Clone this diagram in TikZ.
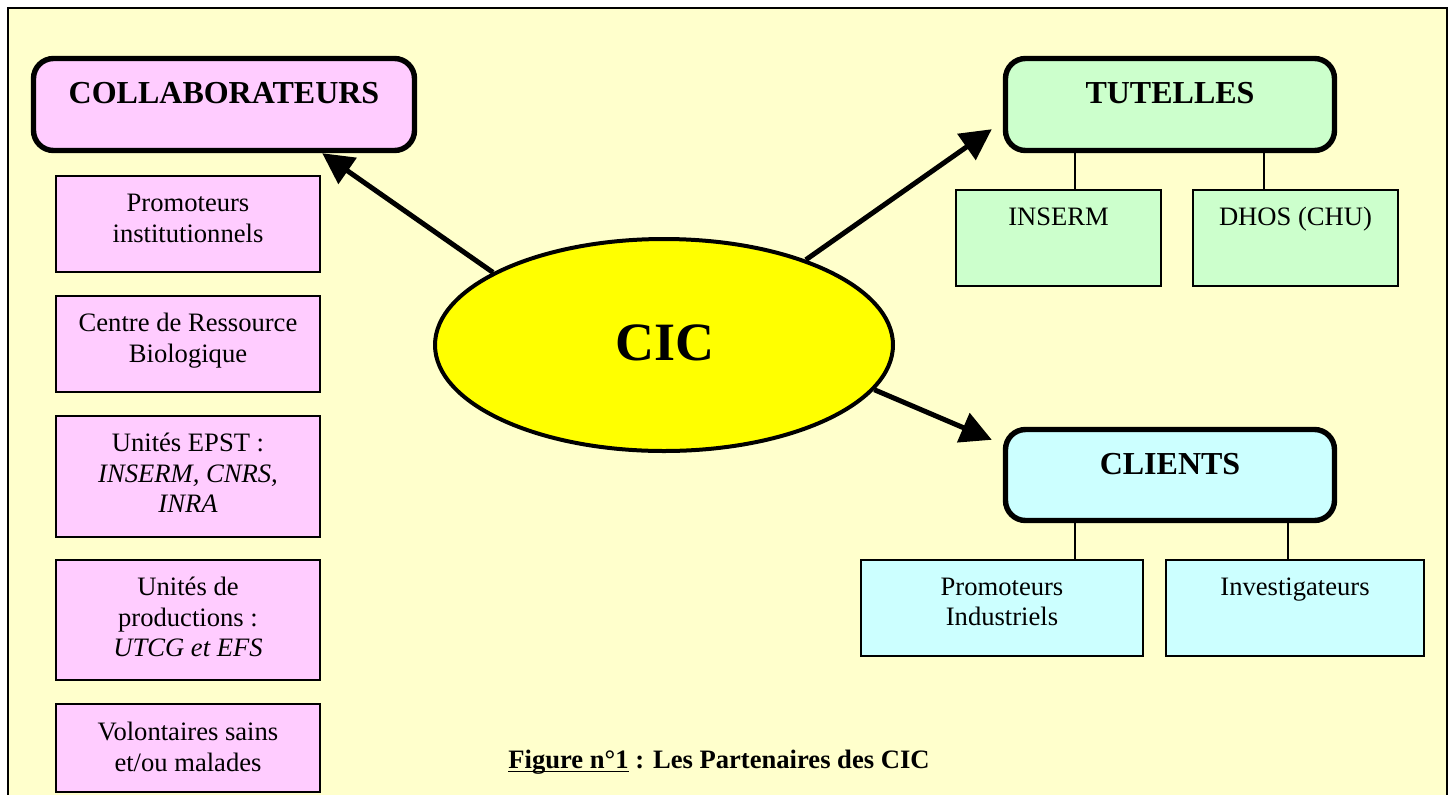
\documentclass[tikz,border=0pt]{standalone}
\usepackage{fontspec}
\setmainfont{Liberation Serif}
\usetikzlibrary{shapes.geometric,arrows.meta,calc}
\definecolor{bgyel}{HTML}{FFFFCC}
\definecolor{pinkc}{HTML}{FFCCFF}
\definecolor{greenc}{HTML}{CCFFCC}
\definecolor{cyanc}{HTML}{CCFFFF}
\definecolor{yelc}{HTML}{FFFF00}
\newcommand\mystrut{\rule{0pt}{10pt}}
\newcommand\myul[1]{\setbox0\hbox{#1}\rlap{\rule[-2.2pt]{\wd0}{0.75pt}}\box0\relax}
\begin{document}
\begin{tikzpicture}[x=0.5pt,y=-0.5pt,
  titlebox/.style={draw, line width=2.7pt, rounded corners=10pt, inner sep=0pt},
  thinbox/.style={draw, line width=1pt, inner sep=0pt},
  bodytxt/.style={anchor=north, align=center, inner sep=0pt, font=\fontsize{13.3}{15.25}\selectfont},
  titletxt/.style={anchor=base, inner sep=0pt, font=\fontsize{16}{19}\selectfont\bfseries},
  conn/.style={line width=0.8pt},
  bigarrow/.style={line width=2.5pt, -{Triangle[length=15.5pt,width=15.5pt]}}]
\useasboundingbox (0,0) rectangle (1452,794);
\fill[white] (0,0) rectangle (1452,794);
\draw[fill=bgyel, line width=1pt] (8,8) rectangle (1447,830);

% left column
\node[titlebox, fill=pinkc, minimum width=190.5pt, minimum height=46pt] (collab) at (224,104.5) {};
\node[titletxt] (collabt) at (224,103.5) {COLLABORATEURS};

\node[thinbox, fill=pinkc, minimum width=132pt, minimum height=48pt] (p1) at (188,224) {};
\node[bodytxt] (p1t) at ([yshift=-8.25pt]p1.north) {\mystrut Promoteurs\\institutionnels};
\node[thinbox, fill=pinkc, minimum width=132pt, minimum height=48pt] (p2) at (188,344) {};
\node[bodytxt] (p2t) at ([yshift=-8.25pt]p2.north) {\mystrut Centre de Ressource\\Biologique};
\node[thinbox, fill=pinkc, minimum width=132pt, minimum height=60.5pt] (p3) at (188,476.5) {};
\node[bodytxt] (p3t) at ([yshift=-8.25pt]p3.north) {\mystrut Unités EPST :\\\textit{INSERM, CNRS,}\\\textit{INRA}};
\node[thinbox, fill=pinkc, minimum width=132pt, minimum height=60pt] (p4) at (188,620) {};
\node[bodytxt] (p4t) at ([yshift=-8.25pt]p4.north) {\mystrut Unités de\\productions :\\\textit{UTCG et EFS}};
\node[thinbox, fill=pinkc, minimum width=132pt, minimum height=44pt] (p5) at (188,748) {};
\node[bodytxt] (p5t) at ([yshift=-8.75pt]p5.north) {\mystrut Volontaires sains\\et/ou malades};

% TUTELLES
\node[titlebox, fill=greenc, minimum width=164.5pt, minimum height=46pt] (tut) at (1170,104.5) {};
\node[titletxt] (tutt) at (1170,103.5) {TUTELLES};
\node[thinbox, fill=greenc, minimum width=102.5pt, minimum height=48pt] (g1) at (1058.5,238) {};
\node[bodytxt] (g1t) at ([yshift=-8pt]g1.north) {\mystrut INSERM};
\node[thinbox, fill=greenc, minimum width=102.5pt, minimum height=48pt] (g2) at (1295.5,238) {};
\node[bodytxt] (g2t) at ([yshift=-8pt]g2.north) {\mystrut DHOS (CHU)};
\coordinate (k1) at (1075,0);
\coordinate (k2) at (1264,0);
\draw[conn] (tut.south -| k1) -- (g1.north -| k1);
\draw[conn] (tut.south -| k2) -- (g2.north -| k2);

% CLIENTS
\node[titlebox, fill=cyanc, minimum width=164.5pt, minimum height=45.5pt] (cli) at (1170,475) {};
\node[titletxt] (clit) at (1170,474.5) {CLIENTS};
\node[thinbox, fill=cyanc, minimum width=141pt, minimum height=48pt] (c1) at (1002,608) {};
\node[bodytxt] (c1t) at ([yshift=-8pt]c1.north) {\mystrut Promoteurs\\Industriels};
\node[thinbox, fill=cyanc, minimum width=129pt, minimum height=48pt] (c2) at (1295,608) {};
\node[bodytxt] (c2t) at ([yshift=-8pt]c2.north) {\mystrut Investigateurs};
\coordinate (k3) at (1075,0);
\coordinate (k4) at (1288,0);
\draw[conn] (cli.south -| k3) -- (c1.north -| k3);
\draw[conn] (cli.south -| k4) -- (c2.north -| k4);

% CIC
\node[ellipse, draw, line width=2pt, fill=yelc, minimum width=229pt, minimum height=106pt, inner sep=0pt] (cic) at (664,345) {};
\node[anchor=base, inner sep=0pt, font=\fontsize{27}{30}\selectfont\bfseries] (cict) at (665,360) {CIC};

% arrows
\draw[bigarrow] (cic.157.3) -- ($(collab.south east)+(-95,0)$);
\draw[bigarrow] (cic.31.3) -- ($(tut.south west)+(-11,-24)$);
\draw[bigarrow] (cic.-12.6) -- ($(cli.north west)+(-11,13)$);

% caption
\node[anchor=base, inner sep=0pt, font=\fontsize{13.3}{15}\selectfont\bfseries] (cap) at (719,768) {\myul{Figure n°1} : Les Partenaires des CIC};
\end{tikzpicture}
\end{document}
